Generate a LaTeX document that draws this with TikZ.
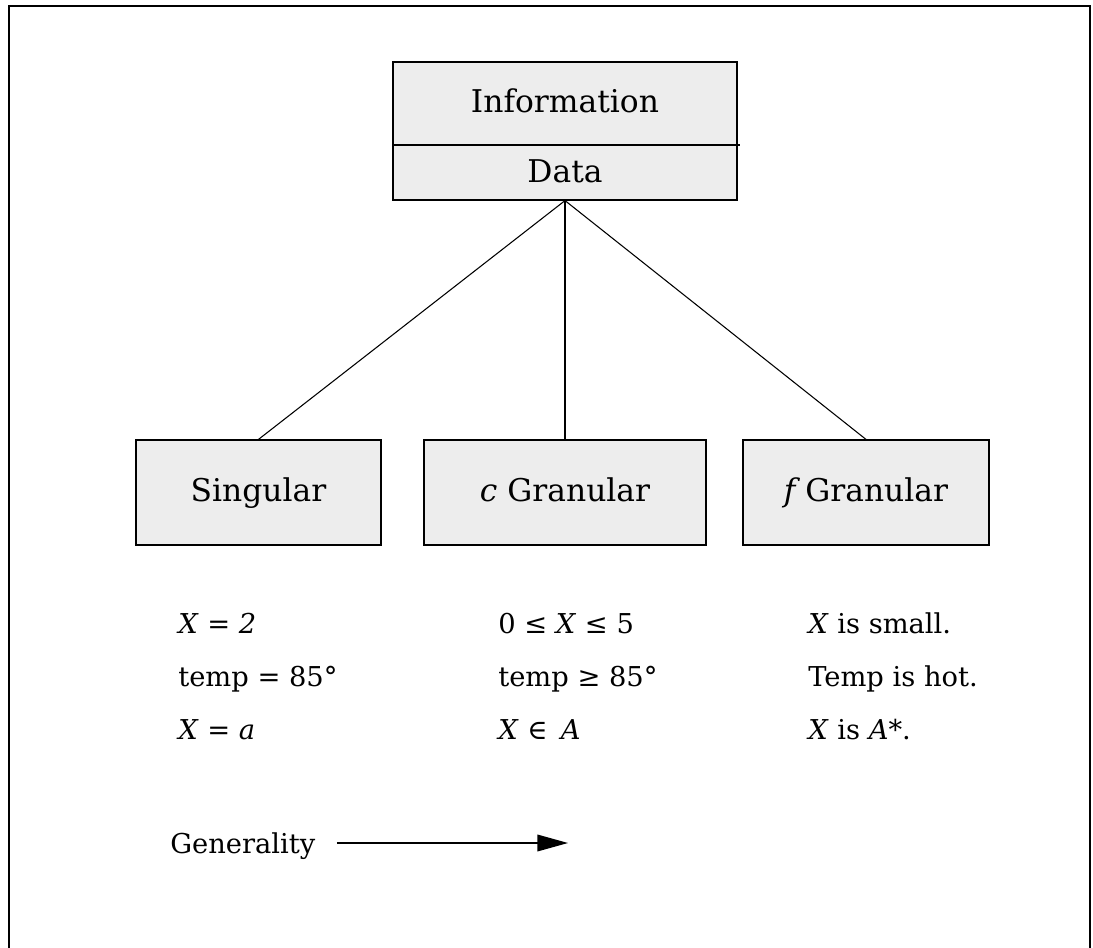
\documentclass[tikz,border=0pt]{standalone}
\usepackage{fontspec}
\setmainfont{DejaVu Serif}
\usetikzlibrary{arrows.meta}
\definecolor{boxgray}{HTML}{EDEDED}
\tikzset{
  box/.style={draw=black, fill=boxgray, line width=0.9pt, inner sep=0pt, anchor=center},
  big/.style={font=\fontsize{23.5}{28}\selectfont, inner sep=0pt},
  small/.style={font=\fontsize{20.5}{24}\selectfont, inner sep=0pt, anchor=base west},
  link/.style={line width=0.8pt},
}
\begin{document}
\begin{tikzpicture}[x=0.75pt,y=-0.75pt]
\useasboundingbox (0,0) rectangle (1093,948);
% outer frame (open at the bottom)
\draw[line width=1.3pt] (9,960) -- (9,6) -- (1090,6) -- (1090,960);
% top box
\node[box, minimum width=258pt, minimum height=103.5pt] (info) at (565,131) {};
\draw[line width=0.9pt] (info.west |- 0,145) -- ([xshift=1.5pt]info.east |- 0,145);
\node[big, anchor=base] (infotext) at (565,113) {Information};
\node[big, anchor=base] (datatext) at (565,183) {Data};
% lower boxes
\node[box, minimum width=183.75pt, minimum height=78.75pt] (sing) at (258.5,492.5) {};
\node[box, minimum width=211.5pt, minimum height=78.75pt] (cgran) at (565,492.5) {};
\node[box, minimum width=184.5pt, minimum height=78.75pt] (fgran) at (866,492.5) {};
\node[big, anchor=base] (singtext) at (sing.center |- 0,502) {Singular};
\node[big, anchor=base] (cgrantext) at (cgran.center |- 0,502) {\textit{c} Granular};
\node[big, anchor=base] (fgrantext) at (fgran.center |- 0,502) {\textit{f}\,Granular};
% connectors
\draw[link] (info.south) -- (sing.north);
\draw[link] (info.south) -- (cgran.north);
\draw[link] (info.south) -- (fgran.north);
% examples
\node[small] (a1) at (178,633) {\textit{X} = \textit{2}};
\node[small] (a2) at (178,686) {temp = 85°};
\node[small] (a3) at (178,739) {\textit{X} = \textit{a}};
\node[small] (b1) at (498,633) {0 ≤ \textit{X} ≤ 5};
\node[small] (b2) at (498,686) {temp ≥ 85°};
\node[small] (b3) at (498,739) {\textit{X} ∈ \,\textit{A}};
\node[small] (c1) at (808,633) {\textit{X} is small.};
\node[small] (c2) at (808,686) {Temp is hot.};
\node[small] (c3) at (808,739) {\textit{X} is \textit{A}*.};
% generality arrow
\node[small] (gen) at (170,853) {Generality};
\coordinate (arrowend) at (568,843);
\draw[line width=1.1pt, -{Triangle[length=23pt,width=12.5pt]}] (gen.east |- arrowend) ++(16pt,0) -- (arrowend);
\end{tikzpicture}
\end{document}
